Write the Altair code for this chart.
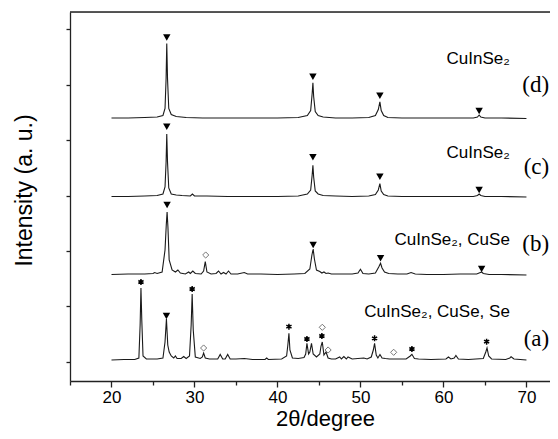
import altair as alt
import pandas as pd

# ---------------- data (2theta in degrees, intensity above each pattern's own baseline, a.u.) ----------------
a_theta = [20.0, 21.5, 22.8, 23.3, 23.45, 23.55, 23.65, 23.8, 24.2, 25.5, 26.2, 26.45, 26.62, 26.78, 26.95, 27.2,
           27.5, 27.7, 27.9, 28.4, 28.7, 29.0, 29.4, 29.6, 29.72, 29.85, 30.1, 30.7, 30.95, 31.1, 31.3, 31.8,
           32.8, 33.1, 33.4, 33.7, 34.0, 34.3, 35.0, 36.0, 37.0, 38.5, 38.7, 38.9, 40.5, 41.1, 41.25, 41.38,
           41.5, 41.8, 42.5, 43.2, 43.4, 43.55, 43.75, 43.9, 44.1, 44.3, 44.7, 45.1, 45.25, 45.4, 45.6, 45.85,
           46.1, 46.5, 47.0, 47.5, 47.7, 48.0, 48.3, 48.5, 49.0, 50.4, 50.8, 51.3, 51.55, 51.7, 51.9, 52.1,
           52.35, 52.6, 53.0, 53.5, 55.5, 56.0, 56.2, 56.5, 57.0, 58.5, 60.3, 60.6, 60.9, 61.3, 61.5, 61.8,
           63.0, 64.8, 65.1, 65.25, 65.45, 65.8, 67.5, 68.0, 68.15, 68.5, 70.0]
a_int = [0, 0.5, 0.5, 2, 35, 72, 40, 4, 1, 1, 2, 18, 41, 15, 8, 4,
         2, 4, 1.5, 1.5, 3.5, 1.5, 4, 35, 66, 30, 3, 1.5, 3, 7, 2, 1,
         1, 5.5, 1, 1, 5.5, 1, 1, 1.5, 0.5, 0.5, 2, 0.5, 1, 4, 15, 26.7,
         10, 2, 1.5, 2.5, 6, 16.7, 6, 8, 16.7, 6, 3, 6, 14, 18, 5, 8,
         2, 1, 1, 3, 1, 3.5, 1, 3, 1, 2, 1, 3, 10, 16.7, 5, 2,
         5.5, 2, 1.5, 1, 1, 4, 5.7, 1.5, 1, 0.5, 1, 3, 1, 2, 4.5, 1,
         0.5, 1.5, 8, 12, 4, 1, 0.5, 2, 3.3, 1, 0]

b_theta = [20.0, 22.0, 24.0, 25.0, 25.2, 25.5, 26.1, 26.45, 26.6, 26.7, 26.8, 26.95, 27.3, 27.7, 28.0, 28.3,
           28.9, 29.3, 29.5, 29.8, 30.1, 30.8, 31.1, 31.3, 31.5, 32.0, 32.6, 32.9, 33.2, 33.5, 33.8, 34.1,
           34.4, 35.2, 36.0, 36.4, 38.0, 40.0, 42.0, 43.3, 43.9, 44.15, 44.3, 44.45, 44.7, 45.1, 45.35, 45.6,
           45.85, 46.1, 46.5, 47.5, 49.0, 49.7, 50.0, 50.3, 51.0, 51.8, 52.2, 52.42, 52.6, 52.9, 53.4, 54.5,
           55.6, 56.1, 56.6, 58.0, 60.0, 62.0, 64.0, 64.45, 64.6, 64.8, 65.5, 67.0, 70.0]
b_int = [0.5, 1, 1, 1.5, 2.5, 1.5, 3, 25, 50, 63, 48, 15, 5, 3, 5, 2,
         1, 3, 1.5, 4, 1.5, 1, 4, 13.3, 3, 1, 1.5, 4, 1, 2.5, 1, 4,
         1, 1, 2.5, 1, 1, 0.5, 1, 1.5, 6, 20, 26, 16, 5, 3.5, 2, 3,
         1.5, 2, 1, 1, 1, 2, 5.7, 1.5, 1, 2, 8, 11.7, 7, 3, 1.5, 1,
         1, 2.5, 1, 0.5, 0.5, 1, 1, 2.5, 3, 1.5, 0.5, 0.5, 0]

c_theta = [20.0, 22.0, 24.0, 25.5, 26.2, 26.45, 26.58, 26.66, 26.75, 26.9, 27.2, 27.8, 28.5, 29.5, 29.75, 30.0,
           31.5, 34.0, 37.0, 40.0, 42.5, 43.6, 44.0, 44.18, 44.27, 44.36, 44.55, 44.9, 45.5, 47.0, 49.0, 51.0,
           51.8, 52.15, 52.34, 52.5, 52.8, 53.3, 55.0, 58.0, 61.0, 63.6, 64.1, 64.3, 64.5, 65.0, 67.0, 70.0]
c_int = [0.5, 0.5, 1.0, 1.5, 3, 10, 35, 63, 35, 9, 3, 2, 1.5, 1, 3, 1,
         1, 0.5, 0.5, 0.5, 1, 3, 7, 22, 31.7, 20, 6, 3, 1.5, 1, 0.5, 1,
         2.5, 7, 13.3, 6, 2.5, 1, 0.5, 0.5, 0.5, 0.5, 1.5, 3, 1.5, 0.5, 0.5, 0]

d_theta = [20.0, 22.0, 24.0, 25.5, 26.2, 26.45, 26.58, 26.66, 26.75, 26.9, 27.2, 27.8, 29.0, 31.0, 34.0, 37.0,
           40.0, 42.5, 43.6, 44.0, 44.18, 44.27, 44.36, 44.55, 44.9, 45.5, 47.0, 49.0, 51.0, 51.8, 52.15, 52.34,
           52.5, 52.8, 53.3, 55.0, 58.0, 61.0, 63.6, 64.1, 64.3, 64.5, 65.0, 67.0, 70.0]
d_int = [0.5, 0.5, 1.0, 1.5, 3, 10, 40, 75, 40, 10, 4, 2, 1, 0.5, 0.5, 0.5,
         0.5, 1, 3, 8, 25, 35.6, 22, 7, 3, 1.5, 0.5, 0.5, 1, 3, 9, 16.6,
         8, 3, 1, 0.5, 0.5, 0.5, 0.5, 1.5, 3.5, 1.5, 0.5, 0.5, 0]

# vertical stacking offsets of the four patterns
series_names = ["a", "b", "c", "d"]
series_offset = [21, 106, 184, 262.5]

# phase markers: CuInSe2 (filled triangle), Se (asterisk), CuSe (open diamond)
tri_series = ["d", "d", "d", "d", "c", "c", "c", "c", "b", "b", "b", "b", "a"]
tri_theta = [26.66, 44.27, 52.34, 64.3, 26.66, 44.27, 52.34, 64.3, 26.7, 44.3, 52.42, 64.6, 26.62]
tri_int = [81, 41.8, 22.8, 7.5, 70.3, 39.7, 20.3, 7, 70, 30, 16.7, 6, 44]

ast_series = ["a"] * 8
ast_theta = [23.55, 29.72, 41.38, 43.55, 45.35, 51.7, 56.2, 65.2]
ast_int = [78, 71, 33.3, 21, 24, 21.7, 11, 18.3]

dia_series = ["a", "a", "a", "a", "b"]
dia_theta = [31.1, 45.4, 46.1, 54.0, 31.35]
dia_int = [12, 32.7, 10, 7.7, 20]

# annotation texts
phase_text = ["CuInSe₂", "CuInSe₂", "CuInSe₂, CuSe", "CuInSe₂, CuSe, Se"]
phase_series = ["d", "c", "b", "a"]
phase_rel = [59.5, 44, 34.7, 47.7]
panel_text = ["(d)", "(c)", "(b)", "(a)"]
panel_rel = [33.8, 30.5, 31.3, 21.5]

x_major = [20, 30, 40, 50, 60, 70]
x_minor = [15, 25, 35, 45, 55, 65]

# ---------------- build tables ----------------
W, H = 480, 369
x_max = 15 + W / 8.299

off = dict(zip(series_names, series_offset))
rows = []
for name, xs, ys in [("a", a_theta, a_int), ("b", b_theta, b_int), ("c", c_theta, c_int), ("d", d_theta, d_int)]:
    assert len(xs) == len(ys), name
    for t, v in zip(xs, ys):
        rows.append({"series": name, "theta": t, "intensity": v + off[name]})
lines_df = pd.DataFrame(rows)

def markers(ser, th, it):
    return pd.DataFrame({"series": ser, "theta": th, "intensity": [v + off[s] for s, v in zip(ser, it)]})

tri_df = markers(tri_series, tri_theta, tri_int)
ast_df = markers(ast_series, ast_theta, ast_int)
dia_df = markers(dia_series, dia_theta, dia_int)
phase_df = pd.DataFrame({"text": phase_text, "theta": [68.0] * 4,
                         "intensity": [off[s] + r for s, r in zip(phase_series, phase_rel)]})
panel_df = pd.DataFrame({"text": panel_text, "theta": [x_max - 0.1] * 4,
                         "intensity": [off[s] + r for s, r in zip(phase_series, panel_rel)]})

y_major = [47 + 55.4 * k for k in range(6)]
y_minor = [19.3 + 55.4 * k for k in range(7)]
y_ticks = sorted(y_major + y_minor)

xscale = alt.Scale(domain=[15, x_max], nice=False, zero=False)
yscale = alt.Scale(domain=[0, 369], nice=False, zero=False)

x_axis = alt.Axis(
    values=sorted(x_major + x_minor),
    labelExpr="datum.value % 10 == 0 ? datum.label : ''",
    tickSize={"condition": {"test": "datum.value % 10 != 0", "value": 4}, "value": 6},
    grid=False, domainColor="#222", tickColor="#222", domainWidth=1.3, tickWidth=1.3,
    labelFont="Liberation Sans", labelFontSize=17, labelColor="#000", labelPadding=2,
    title="2θ/degree", titleFont="Liberation Sans", titleFontSize=22, titleFontWeight="normal",
    titleColor="#000", titleX=255, titleY=44, titleAlign="center", titleBaseline="alphabetic",
)
y_axis = alt.Axis(
    values=y_ticks, labels=False,
    tickSize={"condition": {"test": "abs((datum.value - 47) / 55.4 - round((datum.value - 47) / 55.4)) > 0.25",
                            "value": 4}, "value": 8},
    grid=False, domainColor="#222", tickColor="#222", domainWidth=1.3, tickWidth=1.3,
    title="Intensity (a. u.)", titleFont="Liberation Sans", titleFontSize=23, titleFontWeight="normal",
    titleColor="#000", titleAngle=270, titleX=-46, titleY=178, titleAlign="center", titleBaseline="middle",
)

base_x = alt.X("theta:Q", scale=xscale, axis=x_axis)
base_y = alt.Y("intensity:Q", scale=yscale, axis=y_axis)

lines = alt.Chart(lines_df).mark_line(color="#1a1a1a", strokeWidth=1.1, clip=True).encode(
    x=base_x, y=base_y, detail="series:N", order="theta:Q")

tri = alt.Chart(tri_df).mark_point(shape="triangle-down", filled=True, color="#000", size=55, opacity=1).encode(
    x="theta:Q", y="intensity:Q")

ast_path = "M0,-1L0,1M-0.866,-0.5L0.866,0.5M-0.866,0.5L0.866,-0.5"
ast = alt.Chart(ast_df).mark_point(shape=ast_path, filled=False, color="#000", strokeWidth=1.5, size=36,
                                   opacity=1).encode(x="theta:Q", y="intensity:Q")

dia = alt.Chart(dia_df).mark_point(shape="diamond", filled=False, color="#777", strokeWidth=1, size=38,
                                   opacity=1).encode(x="theta:Q", y="intensity:Q")

phase = alt.Chart(phase_df).mark_text(align="right", baseline="middle", font="Liberation Sans",
                                      fontSize=17, color="#000").encode(
    x="theta:Q", y="intensity:Q", text="text:N")

panel = alt.Chart(panel_df).mark_text(align="right", baseline="middle", font="Liberation Serif",
                                      fontSize=23, color="#000").encode(
    x="theta:Q", y="intensity:Q", text="text:N")

frame_top = alt.Chart(pd.DataFrame({"k": [0]})).mark_rule(color="#222", strokeWidth=1.3).encode(
    x=alt.value(0), x2=alt.value(W), y=alt.value(0))

chart = alt.layer(lines, tri, ast, dia, phase, panel, frame_top).properties(
    width=W, height=H,
    autosize=alt.AutoSizeParams(type="none"),
    padding={"left": 62, "top": 4, "right": 0, "bottom": 50},
).configure_view(stroke=None).configure(background="white")

chart.save("out.html", embed_options={"renderer": "svg", "actions": False})
